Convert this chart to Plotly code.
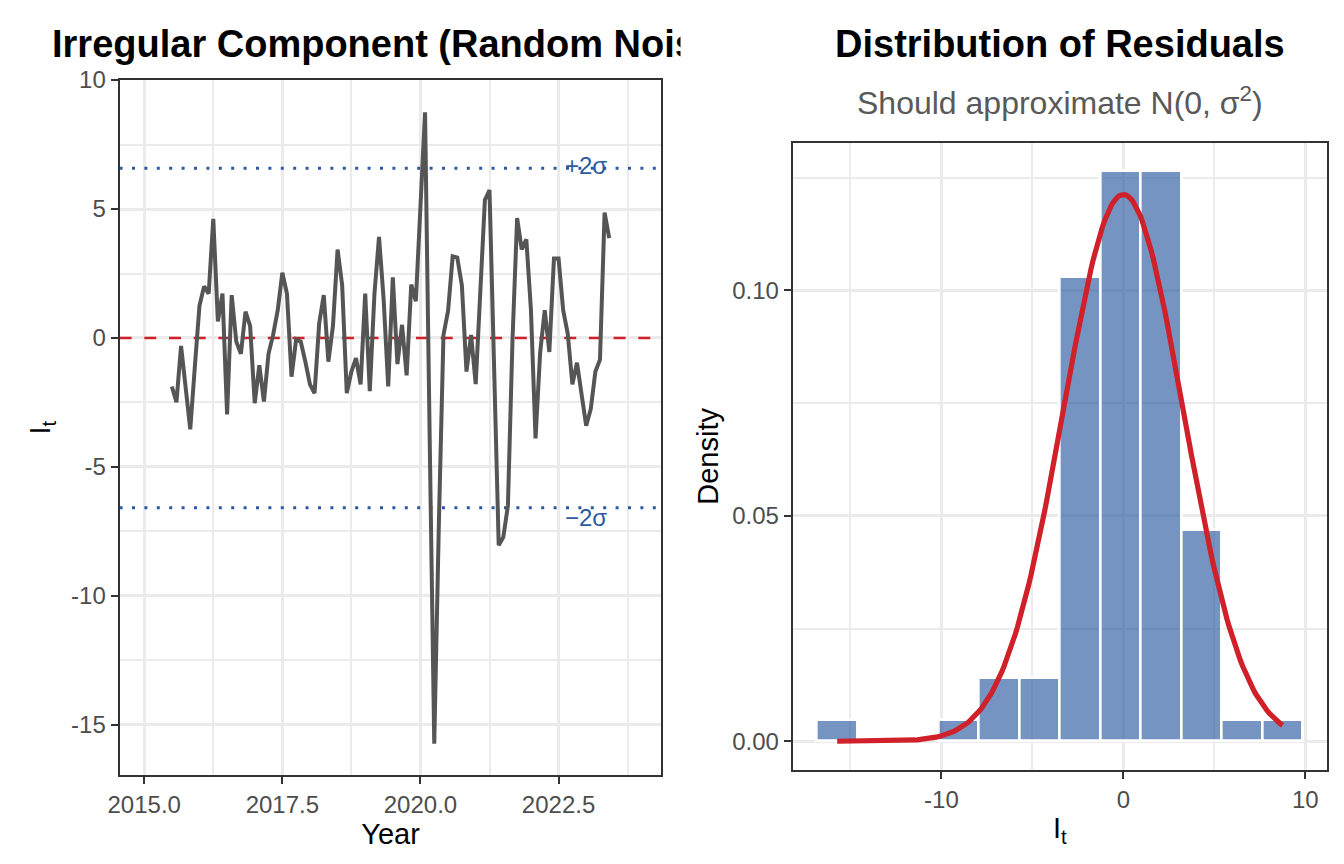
import numpy as np
import plotly.graph_objects as go

# ---------------- data ----------------
# Irregular (random noise) component, monthly, Jul 2015 .. Jun 2023
first_month_offset = 6   # months after Jan 2015
irregular = [
    -1.88, -2.49, -0.31, -1.90, -3.54, -1.10,                                        # 2015 Jul-Dec
    1.25, 2.00, 1.72, 4.62, 0.64, 1.72, -2.96, 1.66, -0.14, -0.61, 1.02, 0.47,       # 2016
    -2.53, -1.06, -2.46, -0.61, 0.12, 1.08, 2.53, 1.72, -1.50, -0.05, -0.14, -0.92,  # 2017
    -1.80, -2.14, 0.56, 1.66, -0.92, 0.47, 3.43, 2.04, -2.14, -1.30, -0.78, -1.80,   # 2018
    1.72, -2.06, 1.69, 3.92, 1.52, -1.88, 2.35, -1.01, 0.51, -1.45, 2.07, 1.43,      # 2019
    4.90, 8.75, -3.80, -15.73, -7.20, 0.12, 1.05, 3.17, 3.12, 2.04, -1.30, 0.12,     # 2020
    -1.79, 1.52, 5.35, 5.73, -1.15, -8.03, -7.72, -6.50, -0.05, 4.65, 3.43, 3.82,    # 2021
    1.10, -3.89, -0.57, 1.08, -0.54, 3.08, 3.08, 1.08, 0.16, -1.80, -0.96, -2.32,    # 2022
    -3.40, -2.75, -1.30, -0.84, 4.86, 3.87,                                          # 2023 Jan-Jun
]
year_start = 2015
year_end_full = 2023 + 11 / 12       # full series span used by the x scale
sigma_read = 3.29                    # residual standard deviation (±2σ lines)
mean_read = 0.0
n_bins = 12

x_ticks = [2015.0, 2017.5, 2020.0, 2022.5]
x_tick_labels = ["2015.0", "2017.5", "2020.0", "2022.5"]
x_minor = [2016.25, 2018.75, 2021.25, 2023.75]
y_ticks = [-15, -10, -5, 0, 5, 10]
y_tick_labels = ["-15", "-10", "-5", "0", "5", "10"]
y_minor = [-12.5, -7.5, -2.5, 2.5, 7.5]

x2_ticks = [-10, 0, 10]
x2_tick_labels = ["-10", "0", "10"]
x2_minor = [-15, -5, 5]
y2_ticks = [0.0, 0.05, 0.10]
y2_tick_labels = ["0.00", "0.05", "0.10"]
y2_minor = [0.025, 0.075, 0.125]

# ---------------- derived ----------------
irr = np.array(irregular)
years = year_start + (first_month_offset + np.arange(len(irr))) / 12.0

x_span = year_end_full - year_start
x_range = [year_start - 0.05 * x_span, year_end_full + 0.05 * x_span]
y_lo, y_hi = irr.min(), irr.max()
y_range = [y_lo - 0.05 * (y_hi - y_lo), max(y_hi + 0.05 * (y_hi - y_lo), 10.0)]

bw = (y_hi - y_lo) / (n_bins - 1)
b_start = y_lo - bw / 2
b_end = b_start + n_bins * bw
counts, _ = np.histogram(irr, bins=np.linspace(b_start, b_end, n_bins + 1))
dens_max = counts.max() / (len(irr) * bw)
x2_range = [b_start - 0.05 * (b_end - b_start), b_end + 0.05 * (b_end - b_start)]
y2_range = [-0.05 * dens_max, dens_max * 1.05]

curve_x = np.linspace(y_lo, y_hi, 201)
curve_y = np.exp(-0.5 * ((curve_x - mean_read) / sigma_read) ** 2) / (sigma_read * np.sqrt(2 * np.pi))

# ---------------- styling ----------------
FONT = "Liberation Sans, Arial, Helvetica, sans-serif"
GRAY_LINE = "#555555"
BLUE = "#2C5AA0"
RED = "#D0202A"
GRID = "#EBEBEB"
BORDER = "#333333"
TICKTXT = "#4D4D4D"
OFF = 8                      # page body margin added by the browser
W, H = 1344 - 2 * OFF, 864 - 2 * OFF


def px(x):   # page x pixel -> paper fraction
    return (x - OFF) / W


def py(y):   # page y pixel (from top) -> paper fraction
    return 1 - (y - OFF) / H


fig = go.Figure()

# reference lines (drawn first so the series sits on top)
fig.add_trace(go.Scatter(
    x=x_range, y=[0, 0], mode="lines", xaxis="x", yaxis="y",
    line=dict(color=RED, width=2.6, dash="12px,12.7px"), showlegend=False, hoverinfo="skip"))
for s in (2, -2):
    fig.add_trace(go.Scatter(
        x=x_range, y=[s * sigma_read] * 2, mode="lines", xaxis="x", yaxis="y",
        line=dict(color=BLUE, width=3, dash="3px,9.4px"), showlegend=False, hoverinfo="skip"))

fig.add_trace(go.Scatter(
    x=years, y=irr, mode="lines", xaxis="x", yaxis="y",
    line=dict(color=GRAY_LINE, width=4), showlegend=False, hoverinfo="skip"))

fig.add_trace(go.Histogram(
    x=irr, xaxis="x2", yaxis="y2", histnorm="probability density",
    xbins=dict(start=b_start, end=b_end, size=bw), autobinx=False,
    marker=dict(color="rgba(44,90,160,0.65)", line=dict(color="white", width=2.6)),
    showlegend=False, hoverinfo="skip"))

fig.add_trace(go.Scatter(
    x=curve_x, y=curve_y, mode="lines", xaxis="x2", yaxis="y2",
    line=dict(color=RED, width=5.2), showlegend=False, hoverinfo="skip"))


def axis_common(**kw):
    d = dict(
        showgrid=True, gridcolor=GRID, gridwidth=3.3,
        zeroline=False, showline=True, linecolor=BORDER, linewidth=2, mirror=True,
        ticks="outside", ticklen=7, tickwidth=2.2, tickcolor=BORDER,
        tickfont=dict(family=FONT, size=24, color=TICKTXT),
        tickmode="array",
    )
    d.update(kw)
    return d


minor_style = dict(showgrid=True, gridcolor=GRID, gridwidth=1.7, ticks="", tickmode="array")
title_font = dict(family=FONT, size=29, color="black")

fig.update_layout(
    width=W, height=H, margin=dict(l=0, r=0, t=0, b=0),
    paper_bgcolor="white", plot_bgcolor="white", bargap=0,
    font=dict(family=FONT),
    xaxis=axis_common(
        domain=[px(108.5), px(655.3)], range=x_range, anchor="y",
        tickvals=x_ticks, ticktext=x_tick_labels,
        minor=dict(tickvals=x_minor, **minor_style),
        title=dict(text="Year", font=title_font, standoff=6)),
    yaxis=axis_common(
        domain=[py(774), py(67)], range=y_range, anchor="x",
        tickvals=y_ticks, ticktext=y_tick_labels,
        minor=dict(tickvals=y_minor, **minor_style),
        title=dict(text="I<sub>t</sub>", font=title_font, standoff=12)),
    xaxis2=axis_common(
        domain=[px(787.7), px(1327)], range=x2_range, anchor="y2",
        tickvals=x2_ticks, ticktext=x2_tick_labels,
        minor=dict(tickvals=x2_minor, **minor_style),
        title=dict(text="I<sub>t</sub>", font=title_font, standoff=6)),
    yaxis2=axis_common(
        domain=[py(768.3), py(131)], range=y2_range, anchor="x2",
        tickvals=y2_ticks, ticktext=y2_tick_labels,
        minor=dict(tickvals=y2_minor, **minor_style),
        title=dict(text="Density", font=title_font, standoff=5)),
)

last_year = years[-1]
fig.add_annotation(x=last_year, y=2 * sigma_read, xref="x", yref="y", text="+2σ",
                   showarrow=False, xanchor="right", yanchor="middle", yshift=3,
                   font=dict(family=FONT, size=24, color=BLUE))
fig.add_annotation(x=last_year, y=-2 * sigma_read, xref="x", yref="y", text="−2σ",
                   showarrow=False, xanchor="right", yanchor="middle", yshift=-10,
                   font=dict(family=FONT, size=24, color=BLUE))

# titles
fig.add_annotation(x=px((108.5 + 655.3) / 2), y=py(30), xref="paper", yref="paper",
                   text="<b>Irregular Component (Random Noise)</b>", showarrow=False,
                   xanchor="center", yanchor="middle",
                   font=dict(family=FONT, size=38, color="black"))
# the left plot's title is clipped at its own half of the canvas
fig.add_annotation(x=px(674), y=py(30), xref="paper", yref="paper", text=" ",
                   showarrow=False, xanchor="left", yanchor="middle",
                   width=80, height=58, bgcolor="white", borderpad=0)
fig.add_annotation(x=px((787.7 + 1327) / 2), y=py(30), xref="paper", yref="paper",
                   text="<b>Distribution of Residuals</b>", showarrow=False,
                   xanchor="center", yanchor="middle",
                   font=dict(family=FONT, size=38, color="black"))
fig.add_annotation(x=px((787.7 + 1327) / 2), y=py(88), xref="paper", yref="paper",
                   text="Should approximate N(0, σ<sup>2</sup>)", showarrow=False,
                   xanchor="center", yanchor="middle",
                   font=dict(family=FONT, size=32, color="#595959"))

fig.write_html("out.html")
